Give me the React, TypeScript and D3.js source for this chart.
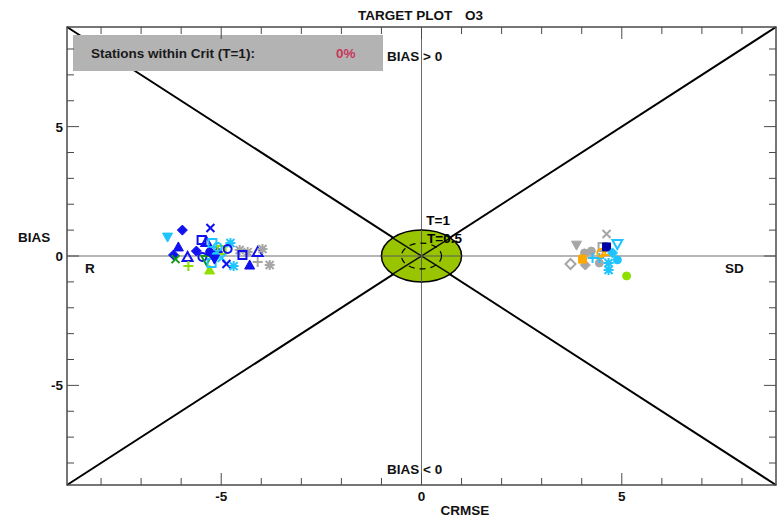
import React from "react";
import * as d3 from "d3";

// Target plot of O3: signed CRMSE (x) against BIAS (y), one marker per station.
const W = 777;
const H = 518;
const LIMIT = 8.85;

const xTicksMajor = [-5, 0, 5];
const yTicksMajor = [-5, 0, 5];
const tickLabels = ["-5", "0", "5"];

const TITLE = "TARGET PLOT";
const SPECIES = "O3";
const CRIT_TEXT = "Stations within Crit (T=1):";
const CRIT_VALUE = "0%";

const palette: Record<string, string> = {
  blue: "#1010f0",
  navy: "#0000a8",
  cyan: "#1ec4ff",
  lime: "#8ee000",
  green: "#129a12",
  gray: "#a6a6a6",
  orange: "#ffa800",
};

// [crmse, bias, shape, colour]
const stationsR: [number, number, string, string][] = [
  [-6.34, 0.73, "triDownFill", "cyan"],
  [-5.97, 1.0, "diamondFill", "blue"],
  [-5.27, 1.08, "x", "blue"],
  [-5.49, 0.62, "squareOpen", "blue"],
  [-5.37, 0.54, "triUpOpen", "blue"],
  [-5.22, 0.5, "squareOpen", "cyan"],
  [-6.07, 0.35, "triUpFill", "blue"],
  [-6.19, 0.04, "diamondFill", "blue"],
  [-6.14, -0.12, "x", "green"],
  [-5.84, -0.04, "triUpOpen", "blue"],
  [-5.62, 0.19, "diamondFill", "blue"],
  [-5.82, -0.39, "plus", "lime"],
  [-5.47, -0.04, "circleOpen", "blue"],
  [-5.37, -0.15, "triDownOpen", "green"],
  [-5.29, -0.54, "triUpFill", "lime"],
  [-5.24, -0.27, "squareOpen", "cyan"],
  [-5.29, 0.15, "circleFill", "blue"],
  [-5.09, 0.15, "diamondFill", "blue"],
  [-4.99, 0.23, "squareOpen", "lime"],
  [-4.99, -0.08, "x", "cyan"],
  [-4.77, 0.5, "star", "cyan"],
  [-4.84, 0.27, "circleOpen", "blue"],
  [-4.87, -0.31, "x", "blue"],
  [-4.69, -0.39, "star", "cyan"],
  [-5.14, 0.0, "circleFill", "cyan"],
  [-5.17, -0.12, "triDownFill", "blue"],
  [-5.09, 0.35, "circleOpen", "cyan"],
  [-4.54, 0.23, "star", "gray"],
  [-4.34, 0.15, "star", "gray"],
  [-4.47, 0.04, "squareOpen", "blue"],
  [-4.29, -0.35, "triUpFill", "blue"],
  [-4.09, -0.23, "plus", "gray"],
  [-4.09, 0.15, "triUpOpen", "blue"],
  [-3.97, 0.27, "star", "gray"],
  [-3.79, -0.35, "star", "gray"],
];

const stationsSD: [number, number, string, string][] = [
  [4.62, 0.85, "x", "gray"],
  [3.87, 0.42, "triDownFill", "gray"],
  [4.07, 0.12, "circleFill", "gray"],
  [4.24, 0.19, "circleFill", "gray"],
  [3.72, -0.31, "diamondOpen", "gray"],
  [4.09, -0.35, "diamondFill", "gray"],
  [4.44, -0.27, "circleFill", "gray"],
  [4.52, 0.35, "squareOpen", "gray"],
  [4.02, -0.12, "squareFill", "orange"],
  [4.27, -0.08, "plus", "cyan"],
  [4.44, -0.08, "plus", "cyan"],
  [4.49, 0.12, "circleOpen", "orange"],
  [4.62, 0.19, "triUpOpen", "orange"],
  [4.62, 0.35, "squareFill", "navy"],
  [4.89, 0.46, "triDownOpen", "cyan"],
  [4.77, 0.12, "diamondFill", "cyan"],
  [4.67, -0.27, "star", "cyan"],
  [4.67, -0.54, "star", "cyan"],
  [4.89, -0.15, "circleFill", "cyan"],
  [5.12, -0.77, "circleFill", "lime"],
];

function shapePath(shape: string, r: number): string {
  const t = r * 0.8;
  switch (shape) {
    case "diamondFill":
    case "diamondOpen":
      return `M0,${-r}L${r},0L0,${r}L${-r},0Z`;
    case "squareFill":
    case "squareOpen":
      return `M${-t},${-t}H${t}V${t}H${-t}Z`;
    case "triUpFill":
    case "triUpOpen":
      return `M0,${-r}L${r},${t}L${-r},${t}Z`;
    case "triDownFill":
    case "triDownOpen":
      return `M0,${r}L${r},${-t}L${-r},${-t}Z`;
    case "circleFill":
    case "circleOpen":
      return d3.symbol(d3.symbolCircle, Math.PI * t * t)() as string;
    case "x":
      return `M${-t},${-t}L${t},${t}M${t},${-t}L${-t},${t}`;
    case "plus":
      return `M${-r},0H${r}M0,${-r}V${r}`;
    case "star":
      return `M${-t},${-t}L${t},${t}M${t},${-t}L${-t},${t}M${-r},0H${r}M0,${-r}V${r}`;
    default:
      return "";
  }
}

const isFilled = (s: string) => s.endsWith("Fill");

export default function App() {
  const x = d3.scaleLinear().domain([-LIMIT, LIMIT]).range([67, 776]);
  const y = d3.scaleLinear().domain([-LIMIT, LIMIT]).range([485, 27]);
  const font = "'Liberation Sans', Arial, sans-serif";
  const ints = d3.range(-8, 9);
  const frame = "#4a4a4a";
  const fs = 13.5;

  const all = [...stationsR, ...stationsSD];

  return (
    <svg
      width={W}
      height={H}
      style={{ position: "absolute", left: 0, top: 0, background: "#fff" }}
      fontFamily={font}
      fontWeight="bold"
    >
      {/* title */}
      <text x={358} y={20} fontSize={fs} fill="#111">{TITLE}</text>
      <text x={465} y={20} fontSize={fs} fill="#111">{SPECIES}</text>

      {/* centre axes */}
      <line x1={x(0)} x2={x(0)} y1={y(LIMIT)} y2={y(-LIMIT)} stroke="#6e6e6e" strokeWidth={1} />
      <line x1={x(-LIMIT)} x2={x(LIMIT)} y1={y(0)} y2={y(0)} stroke="#6e6e6e" strokeWidth={1.2} />

      {/* diagonals */}
      <line x1={x(-LIMIT)} y1={y(LIMIT)} x2={x(LIMIT)} y2={y(-LIMIT)} stroke="#000" strokeWidth={2} />
      <line x1={x(-LIMIT)} y1={y(-LIMIT)} x2={x(LIMIT)} y2={y(LIMIT)} stroke="#000" strokeWidth={2} />

      {/* target criteria */}
      <ellipse
        cx={x(0)}
        cy={y(0)}
        rx={x(1) - x(0)}
        ry={y(0) - y(1)}
        fill="#99c400"
        stroke="#000"
        strokeWidth={1.5}
      />
      <line x1={x(-1) + 10} y1={y(1) + 7} x2={x(1) - 10} y2={y(-1) - 7} stroke="#000" strokeWidth={1.5} opacity={0.9} />
      <line x1={x(-1) + 10} y1={y(-1) - 7} x2={x(1) - 10} y2={y(1) + 7} stroke="#000" strokeWidth={1.5} opacity={0.9} />
      <line x1={x(0)} x2={x(0)} y1={y(1)} y2={y(-1)} stroke="#5a5a5a" strokeWidth={1} />
      <line x1={x(-1)} x2={x(1)} y1={y(0)} y2={y(0)} stroke="#5a5a5a" strokeWidth={1} />
      <ellipse
        cx={x(0)}
        cy={y(0)}
        rx={x(0.5) - x(0)}
        ry={y(0) - y(0.5)}
        fill="none"
        stroke="#000"
        strokeWidth={1.2}
        strokeDasharray="6 5"
      />
      <text x={x(0.12)} y={y(1.18)} fontSize={fs} fill="#000">T=1</text>
      <text x={x(0.14)} y={y(0.5)} fontSize={fs} fill="#000">T=0.5</text>

      {/* stations */}
      {all.map(([cx, cy, shape, col], i) => {
        const c = palette[col];
        const filled = isFilled(shape);
        return (
          <path
            key={i}
            d={shapePath(shape, 5)}
            transform={`translate(${x(cx)},${y(cy)})`}
            fill={filled ? c : "none"}
            stroke={c}
            strokeWidth={filled ? 1 : 2}
          />
        );
      })}

      {/* criteria summary box */}
      <rect x={73} y={35} width={310} height={36} fill="#b3b3b3" />
      <text x={91} y={58} fontSize={fs} fill="#1a1a1a">{CRIT_TEXT}</text>
      <text x={336} y={58} fontSize={fs} fill="#c8385c">{CRIT_VALUE}</text>

      {/* quadrant labels */}
      <text x={387} y={61} fontSize={fs} fill="#111">BIAS &gt; 0</text>
      <text x={387} y={474} fontSize={fs} fill="#111">BIAS &lt; 0</text>
      <text x={85} y={273} fontSize={fs} fill="#111">R</text>
      <text x={725} y={273} fontSize={fs} fill="#111">SD</text>

      {/* frame */}
      <rect x={67} y={27} width={709} height={458} fill="none" stroke={frame} strokeWidth={1.5} />
      {ints.map((v) => {
        const major = v % 5 === 0;
        const len = major ? 12 : 7;
        return (
          <g key={v} stroke={frame} strokeWidth={1}>
            <line x1={x(v)} x2={x(v)} y1={485} y2={485 - len} />
            <line x1={x(v)} x2={x(v)} y1={27} y2={27 + len} />
            <line x1={67} x2={67 + len} y1={y(v)} y2={y(v)} />
            <line x1={776} x2={776 - len} y1={y(v)} y2={y(v)} />
          </g>
        );
      })}

      {/* axis labels */}
      {xTicksMajor.map((v, i) => (
        <text key={"xt" + v} x={x(v)} y={501} textAnchor="middle" fontSize={fs} fill="#111">
          {tickLabels[i]}
        </text>
      ))}
      {yTicksMajor.map((v, i) => (
        <text key={"yt" + v} x={63} y={y(v) + 5} textAnchor="end" fontSize={fs} fill="#111">
          {tickLabels[i]}
        </text>
      ))}
      <text x={465} y={515} textAnchor="middle" fontSize={fs} fill="#111">CRMSE</text>
      <text x={18} y={242} fontSize={fs} fill="#111">BIAS</text>
    </svg>
  );
}
